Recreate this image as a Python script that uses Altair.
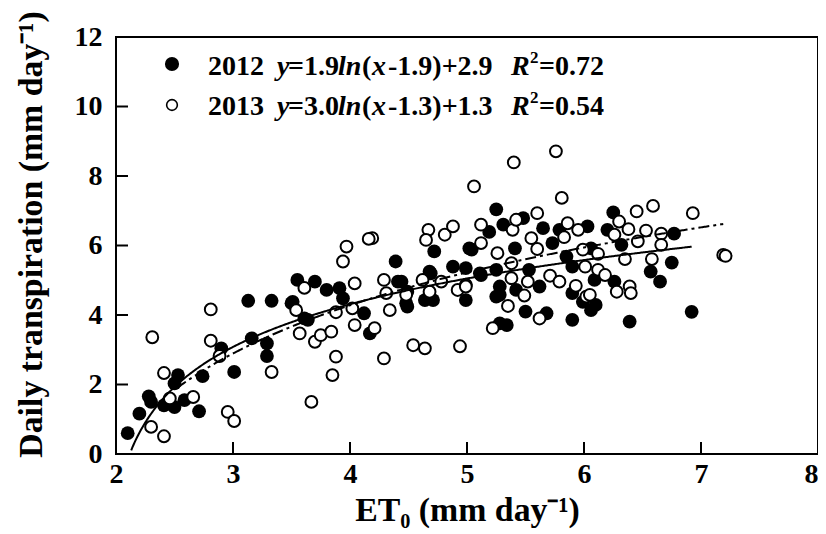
import altair as alt
import pandas as pd
import numpy as np

# ---------------- data ----------------
x2012 = [2.10, 2.20, 2.28, 2.30, 2.41, 2.50, 2.53, 2.50, 2.585, 2.74, 2.71, 3.13, 3.33, 3.50, 3.16, 2.90, 3.01, 3.29, 3.29, 3.61,
         3.55, 3.70, 3.80, 3.91, 3.94, 3.51, 3.64, 4.12, 4.17, 4.39, 4.41, 4.49, 4.49, 4.68, 4.71, 4.72, 4.88, 4.99, 4.99, 5.04,
         5.25, 5.31, 5.48, 5.65, 5.79, 6.03, 5.19, 5.02, 5.41, 5.73, 5.85, 5.12, 5.25, 5.28, 5.53, 5.62, 5.90, 5.25, 5.42, 5.50,
         5.68, 5.34, 5.90, 5.90, 5.99, 6.06,
         6.25, 6.20, 6.77, 6.32, 6.06, 6.26, 6.09, 6.57, 6.65, 6.75, 6.10, 6.39, 6.92,
         5.11, 5.28, 4.48, 4.64, 4.69, 4.44, 5.28]
y2012 = [0.60, 1.16, 1.66, 1.50, 1.40, 1.35, 2.27, 2.03, 1.55, 2.24, 1.23, 4.41, 4.41, 4.34, 3.33, 3.04, 2.36, 3.18, 2.82, 3.90,
         5.01, 4.96, 4.72, 4.77, 4.48, 4.38, 3.86, 4.05, 3.47, 5.54, 4.96, 4.67, 4.24, 5.25, 4.43, 5.83, 5.39, 5.35, 4.43, 5.88,
         7.04, 6.60, 6.79, 6.50, 6.45, 6.55, 6.39, 5.92, 5.92, 6.07, 5.68, 5.15, 5.30, 4.82, 5.30, 4.82, 5.39, 4.53, 4.72, 4.10,
         4.05, 3.71, 3.86, 4.63, 4.38, 4.14,
         6.95, 6.45, 6.34, 6.02, 5.92, 4.96, 5.01, 5.25, 4.96, 5.51, 4.29, 3.81, 4.09,
         5.20, 4.58, 4.34, 4.43, 5.20, 4.96, 3.76]

x2013 = [2.81, 2.31, 2.41, 2.46, 2.66, 2.30, 2.41, 2.81, 2.885, 2.955, 3.01, 3.33, 3.57, 3.54, 3.61, 3.67,
         3.70, 3.75, 3.84, 3.88, 3.85, 3.94, 3.97, 4.04, 4.04, 4.02, 4.21, 4.19, 4.16, 4.29, 4.31, 4.34, 4.29, 4.54, 4.64,
         4.94, 4.48, 4.62, 4.68, 4.67, 4.65, 4.81, 4.88, 4.78, 4.92, 4.99, 3.88,
         5.40, 5.76, 5.06, 5.81, 5.60, 5.12, 5.39, 5.42, 5.55, 5.60, 5.86, 5.95, 5.83, 5.99, 5.12, 5.26, 5.38, 5.38, 5.52,
         5.71, 5.79, 4.99, 5.49, 5.35, 5.62, 5.22, 5.93, 6.02, 6.01,
         6.59, 6.45, 6.93, 6.30, 6.38, 6.53, 6.26, 6.46, 6.66, 6.66, 6.12, 6.35, 6.58, 6.12, 6.18, 6.28, 6.39, 6.40, 7.19,
         7.21, 6.05]
y2013 = [4.16, 3.36, 2.33, 1.60, 1.64, 0.78, 0.51, 3.26, 2.82, 1.21, 0.95, 2.36, 3.47, 4.14, 4.78, 1.50,
         3.23, 3.42, 3.52, 2.80, 2.27, 5.54, 5.97, 4.91, 3.71, 4.19, 3.62, 6.21, 6.19, 5.01, 4.63, 4.14, 2.75, 3.13, 3.04,
         3.10, 4.58, 5.01, 4.67, 6.45, 6.16, 6.31, 6.55, 4.96, 4.72, 4.87, 4.08,
         8.39, 8.71, 7.70, 7.37, 6.93, 6.60, 6.45, 6.74, 6.21, 5.90, 6.64, 6.45, 6.24, 5.88, 6.07, 5.78, 5.49, 5.06, 4.96,
         5.13, 4.96, 4.82, 4.56, 4.26, 3.90, 3.62, 4.84, 4.53, 5.39,
         7.14, 6.98, 6.93, 6.69, 6.47, 6.43, 6.31, 6.12, 6.34, 6.02, 5.76, 5.61, 5.61, 5.30, 5.15, 4.67, 4.82, 4.63, 5.73,
         5.70, 4.58]

# fitted curves  y = a*ln(x - c) + b   (as printed in the legend) and their x range
fit2012 = dict(a=1.9, c=1.9, b=2.9, x0=2.13, x1=6.92)
fit2013 = dict(a=3.0, c=1.3, b=1.3, x0=2.52, x1=7.19)

x_ticks = [3, 4, 5, 6, 7]
y_ticks = [2, 4, 6, 8, 10]
x_labels = [2, 3, 4, 5, 6, 7, 8]
y_labels = [0, 2, 4, 6, 8, 10, 12]

# ---------------- chart ----------------
W, H = 702, 417
FONT = "Liberation Serif"

xscale = alt.Scale(domain=[2, 8], nice=False, zero=False)
yscale = alt.Scale(domain=[0, 12], nice=False, zero=False)
xaxis = alt.Axis(values=x_labels, format="d", ticks=False, domain=False, grid=False,
                 labelPadding=6, labelBaseline="top", labelFlush=False,
                 labelAlign={"condition": {"test": "datum.value == 8", "value": "right"}, "value": "center"},
                 titleY=39, titleBaseline="top")
yaxis = alt.Axis(values=y_labels, format="d", ticks=False, domain=False, grid=False,
                 labelPadding=14, labelFlush=False,
                 titleX=-68, titleY=197, titleAngle=-90, titleBaseline="bottom", titleAlign="center")
XT = "ET\u2080 (mm day\u207b\u00b9)"
YT = "Daily transpiration (mm day\u207b\u00b9)"

d12 = pd.DataFrame({"x": x2012, "y": y2012})
d13 = pd.DataFrame({"x": x2013, "y": y2013})

p12 = alt.Chart(d12).mark_point(filled=True, shape="circle", size=190, color="black", opacity=1).encode(
    x=alt.X("x:Q", scale=xscale, axis=xaxis, title=XT),
    y=alt.Y("y:Q", scale=yscale, axis=yaxis, title=YT),
)
p13 = alt.Chart(d13).mark_point(filled=True, shape="circle", size=140, fill="white", stroke="black",
                                strokeWidth=2, opacity=1).encode(
    x=alt.X("x:Q", scale=xscale, axis=xaxis, title=XT),
    y=alt.Y("y:Q", scale=yscale, axis=yaxis, title=YT),
)


def fit_line(f, dash):
    grid = pd.DataFrame({"x": np.arange(f["x0"], f["x1"] + 1e-9, 0.01)})
    expr = f"{f['a']}*log(datum.x-{f['c']})+{f['b']}"
    mk = dict(color="black", strokeWidth=2)
    if dash:
        mk["strokeDash"] = dash
    return alt.Chart(grid).transform_calculate(yfit=expr).mark_line(**mk).encode(
        x=alt.X("x:Q", scale=xscale, axis=xaxis, title=XT),
        y=alt.Y("yfit:Q", scale=yscale, axis=yaxis, title=YT),
    )


l12 = fit_line(fit2012, None)
l13 = fit_line(fit2013, [11, 4, 3, 4])

xt = alt.Chart(pd.DataFrame({"v": x_ticks})).mark_rule(color="black", strokeWidth=2).encode(
    x=alt.X("v:Q", scale=xscale, axis=xaxis, title=XT), y=alt.value(H), y2=alt.value(H - 12))
yt = alt.Chart(pd.DataFrame({"v": y_ticks})).mark_rule(color="black", strokeWidth=2).encode(
    y=alt.Y("v:Q", scale=yscale, axis=yaxis, title=YT), x=alt.value(0), x2=alt.value(12))

# ---------------- legend (annotation) ----------------
one = pd.DataFrame({"a": [0]})
leg = [
    alt.Chart(one).mark_point(filled=True, shape="circle", size=200, color="black", opacity=1).encode(
        x=alt.value(56), y=alt.value(27)),
    alt.Chart(one).mark_point(filled=True, shape="circle", size=115, fill="white", stroke="black",
                              strokeWidth=1.6, opacity=1).encode(x=alt.value(56), y=alt.value(68)),
]
rows = [
    (38, ["2012", "y", "=1.9", "ln", "(", "x", "-1.9)+2.9", "R", "2", "=0.72"]),
    (78, ["2013", "y", "=3.0", "ln", "(", "x", "-1.3)+1.3", "R", "2", "=0.54"]),
]
starts = [92, 161, 172, 222, 246, 256, 272, 395, 414, 423]
styles = ["n", "i", "n", "i", "n", "i", "n", "i", "s", "n"]
for base, segs in rows:
    for s, px, st in zip(segs, starts, styles):
        kw = dict(text=s, font=FONT, fontWeight="bold", fontSize=28, align="left",
                  baseline="alphabetic", color="black")
        py = base
        if st == "i":
            kw["fontStyle"] = "italic"
        if st == "s":
            kw["fontSize"] = 17
            py = base - 12
        leg.append(alt.Chart(one).mark_text(**kw).encode(x=alt.value(px), y=alt.value(py)))

chart = alt.layer(p12, p13, l12, l13, xt, yt, *leg).properties(
    width=W, height=H,
    autosize=alt.AutoSizeParams(type="none"),
    padding={"left": 108, "top": 29, "right": 0, "bottom": 80},
).configure_view(stroke="black", strokeWidth=2).configure_axis(
    labelFont=FONT, labelFontWeight="bold", labelFontSize=28, labelColor="black",
    titleFont=FONT, titleFontWeight="bold", titleFontSize=33.8, titleColor="black",
)

chart.save("out.html", embed_options={"renderer": "svg", "actions": False})
